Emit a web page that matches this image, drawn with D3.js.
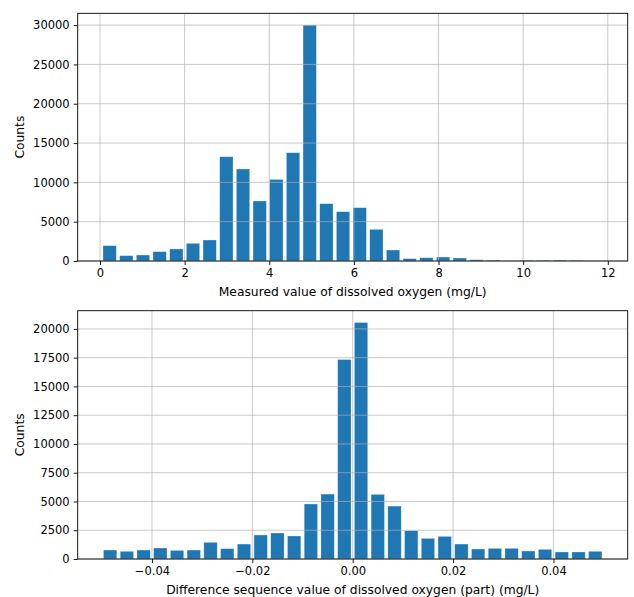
<!DOCTYPE html>
<html>
<head>
<meta charset="utf-8">
<script src="https://cdn.jsdelivr.net/npm/d3@7"></script>
<style>
	body { margin: 0; background: #fff; }
	svg text { font-family: "DejaVu Sans", sans-serif; fill: #000; }
</style>
</head>
<body>
<svg id="chart" width="634" height="597"></svg>
<script>
/* Histogram 1: measured dissolved oxygen, 30 bins */
var do_counts = [1950, 680, 760, 1190, 1525, 2250, 2670, 13260, 11700, 7630,
	10380, 13770, 30000, 7290, 6270, 6780, 4030, 1400, 300, 420,
	510, 380, 160, 110, 0, 70, 80, 120, 70, 10];
var do_range = [0.031, 11.85];
var do_xlim = [-0.527, 12.47];
var do_ticks = [0, 2, 4, 6, 8, 10, 12];
var do_yticks = [0, 5000, 10000, 15000, 20000, 25000, 30000];

/* Histogram 2: difference sequence, 30 bins */
var diff_counts = [780, 670, 780, 955, 750, 780, 1450, 900, 1300, 2085,
	2260, 2000, 4780, 5645, 17340, 20555, 5620, 4600, 2460, 1795,
	1970, 1300, 870, 925, 930, 695, 840, 610, 610, 670];
var diff_range = [-0.05, 0.05];
var diff_xlim = [-0.0548, 0.0548];
var diff_ticks = [-0.04, -0.02, 0, 0.02, 0.04];
var diff_yticks = [0, 2500, 5000, 7500, 10000, 12500, 15000, 17500, 20000];

var svg = d3.select("#chart");
var font = 11.5, label_font = 12.3;

function draw_hist(counts, range, xlim, xticks, yticks, xfmt, label, top, bottom){
	var left = 77.7, right = 627.7;
	var x = d3.scaleLinear().domain(xlim).range([left, right]);
	var y = d3.scaleLinear().domain([0, d3.max(counts)*1.05]).range([bottom, top]);
	var g = svg.append("g");
	var bw = (range[1] - range[0])/counts.length;

	// bars (rwidth 0.8)
	g.selectAll("rect.bar")
		.data(counts)
		.enter().append("rect")
		.attr("class", "bar")
		.attr("x", function(d, i){ return x(range[0] + bw*i + bw*0.1); })
		.attr("width", x(range[0] + bw*0.8) - x(range[0]))
		.attr("y", function(d){ return y(d); })
		.attr("height", function(d){ return y(0) - y(d); })
		.attr("fill", "#1f77b4")
		.attr("stroke", "#ffffff")
		.attr("stroke-opacity", 0.5)
		.attr("stroke-width", 0.6);

	// grid drawn over the bars
	for (var i = 0; i < xticks.length; i++){
		g.append("line")
			.attr("x1", x(xticks[i])).attr("x2", x(xticks[i]))
			.attr("y1", top).attr("y2", bottom)
			.attr("stroke", "#b0b0b0").attr("stroke-opacity", 0.75)
			.attr("stroke-width", 0.9);
	}
	for (var i = 0; i < yticks.length; i++){
		g.append("line")
			.attr("x1", left).attr("x2", right)
			.attr("y1", y(yticks[i])).attr("y2", y(yticks[i]))
			.attr("stroke", "#b0b0b0").attr("stroke-opacity", 0.75)
			.attr("stroke-width", 0.9);
	}

	// axes
	var xa = d3.axisBottom(x).tickValues(xticks).tickFormat(xfmt)
		.tickSizeInner(4).tickSizeOuter(0).tickPadding(4);
	var ya = d3.axisLeft(y).tickValues(yticks).tickFormat(d3.format("d"))
		.tickSizeInner(4).tickSizeOuter(0).tickPadding(4);
	var gx = g.append("g").attr("transform", "translate(0," + bottom + ")").call(xa);
	var gy = g.append("g").attr("transform", "translate(" + left + ",0)").call(ya);
	[gx, gy].forEach(function(a){
		a.select(".domain").remove();
		a.selectAll("line").attr("stroke", "#000").attr("stroke-width", 0.9);
		a.selectAll("text").style("font-size", font + "px").attr("fill", "#000");
	});

	// frame
	g.append("rect")
		.attr("x", left).attr("y", top)
		.attr("width", right - left).attr("height", bottom - top)
		.attr("fill", "none").attr("stroke", "#000").attr("stroke-width", 0.9);

	g.append("text")
		.attr("x", (left + right)/2).attr("y", bottom + 35)
		.attr("text-anchor", "middle")
		.style("font-size", label_font + "px")
		.text(label);
	g.append("text")
		.attr("transform", "translate(23.5," + (top + bottom)/2 + ") rotate(-90)")
		.attr("text-anchor", "middle")
		.style("font-size", label_font + "px")
		.text("Counts");
}

function minus_fmt(d){
	var s = d3.format(".2f")(d);
	return s.replace("-", "\u2212");
}

draw_hist(do_counts, do_range, do_xlim, do_ticks, do_yticks, d3.format("d"),
	"Measured value of dissolved oxygen (mg/L)", 13.3, 261);
draw_hist(diff_counts, diff_range, diff_xlim, diff_ticks, diff_yticks, minus_fmt,
	"Difference sequence value of dissolved oxygen (part) (mg/L)", 310.7, 559);
</script>
</body>
</html>
